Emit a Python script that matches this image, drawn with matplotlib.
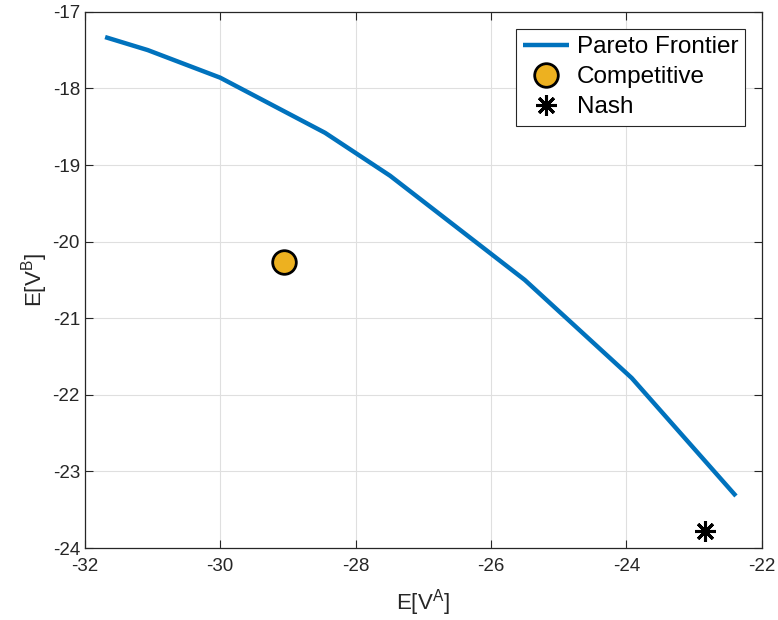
import matplotlib
matplotlib.use("Agg")
import matplotlib.pyplot as plt

plt.rcParams['font.family'] = ['Liberation Sans', 'DejaVu Sans']
plt.rcParams['mathtext.fontset'] = 'custom'
plt.rcParams['mathtext.rm'] = 'Liberation Sans'
plt.rcParams['mathtext.it'] = 'Liberation Sans'
plt.rcParams['mathtext.default'] = 'regular'
plt.rcParams['axes.unicode_minus'] = False

# Pareto frontier
pareto_a = [-31.70, -31.07, -30.00, -28.45, -27.49, -25.50, -23.92, -22.38]
pareto_b = [-17.33, -17.50, -17.86, -18.58, -19.14, -20.50, -21.78, -23.32]

# single points
comp_a, comp_b = -29.05, -20.27
nash_a, nash_b = -22.83, -23.78

xticks = [-32, -30, -28, -26, -24, -22]
yticks = [-24, -23, -22, -21, -20, -19, -18, -17]

blue = '#0072BD'
gold = '#EDB120'
axcol = '#262626'

fig = plt.figure(figsize=(7.78, 6.2), dpi=100)
ax = fig.add_axes([0.109, 0.116, 0.870, 0.865])

ax.plot(pareto_a, pareto_b, color=blue, lw=3.2, label='Pareto Frontier',
        solid_capstyle='butt')
ax.plot([comp_a], [comp_b], 'o', ms=17, mfc=gold, mec='black', mew=2,
        label='Competitive', ls='none')
ax.plot([nash_a], [nash_b], marker=(8, 2, 0), ms=15, mec='black', mew=2.2,
        color='black', label='Nash', ls='none')

ax.set_xlim(-32, -22)
ax.set_ylim(-24, -17)
ax.set_xticks(xticks)
ax.set_yticks(yticks)
ax.grid(True, color='#dfdfdf', lw=0.8)
ax.set_axisbelow(True)

ax.tick_params(direction='in', top=True, right=True, length=6, width=0.8,
               colors=axcol, labelsize=13.5, labelcolor=axcol)
ax.tick_params(axis='x', pad=7)
for s in ax.spines.values():
    s.set_color(axcol)
    s.set_linewidth(0.9)

ax.set_xlabel('E[V$^A$]', fontsize=16, color=axcol, labelpad=9)
ax.set_ylabel('E[V$^B$]', fontsize=16, color=axcol, labelpad=2)

leg = ax.legend(loc='upper right', bbox_to_anchor=(0.976, 0.968),
                borderaxespad=0, fontsize=17.5, fancybox=False, framealpha=1,
                edgecolor=axcol, handlelength=1.9, handletextpad=0.3,
                labelspacing=0.33, borderpad=0.3)
leg.get_frame().set_linewidth(0.8)

fig.savefig('out.png', dpi=100)
